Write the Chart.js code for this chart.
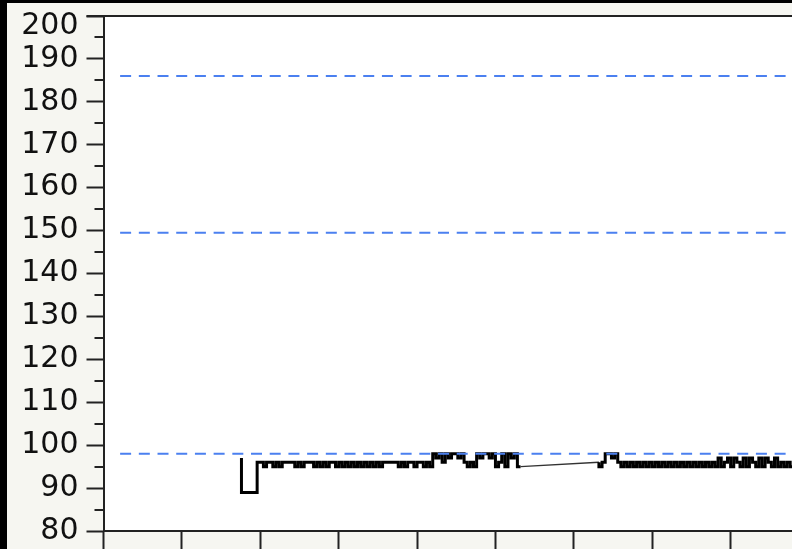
<!DOCTYPE html>
<html>
<head>
<meta charset="utf-8">
<script src="https://cdn.jsdelivr.net/npm/chart.js@4/dist/chart.umd.min.js"></script>
<style>
  html, body { margin: 0; padding: 0; background: #000; overflow: hidden; }
  #spo2Chart { position: absolute; left: 7px; top: 3px; }
</style>
</head>
<body>
<canvas id="spo2Chart" width="810" height="546"></canvas>
<script>
// sample times (x units, one tick every 25)
const times = [
  44, 45, 46, 47, 48, 49, 50, 51, 52, 53,
  54, 55, 56, 57, 58, 59, 60, 61, 62, 63,
  64, 65, 66, 67, 68, 69, 70, 71, 72, 73,
  74, 75, 76, 77, 78, 79, 80, 81, 82, 83,
  84, 85, 86, 87, 88, 89, 90, 91, 92, 93,
  94, 95, 96, 97, 98, 99, 100, 101, 102, 103,
  104, 105, 106, 107, 108, 109, 110, 111, 112, 113,
  114, 115, 116, 117, 118, 119, 120, 121, 122, 123,
  124, 125, 126, 127, 128, 129, 130, 131, 132, 133,
  158, 159, 160, 161, 162, 163, 164, 165, 166, 167,
  168, 169, 170, 171, 172, 173, 174, 175, 176, 177,
  178, 179, 180, 181, 182, 183, 184, 185, 186, 187,
  188, 189, 190, 191, 192, 193, 194, 195, 196, 197,
  198, 199, 200, 201, 202, 203, 204, 205, 206, 207,
  208, 209, 210, 211, 212, 213, 214, 215, 216, 217,
  218, 219, 220
];

const readings = [
  97, 89, 89, 89, 89, 89, 96, 96, 95, 96,
  96, 95, 96, 95, 96, 96, 96, 96, 95, 96,
  95, 96, 96, 96, 95, 96, 95, 96, 95, 96,
  96, 95, 96, 95, 96, 95, 96, 95, 96, 95,
  96, 95, 96, 95, 96, 95, 96, 96, 96, 96,
  96, 95, 96, 95, 96, 96, 95, 96, 96, 95,
  96, 95, 98, 97, 98, 96, 98, 97, 98, 98,
  97, 98, 96, 95, 96, 95, 98, 97, 98, 98,
  97, 98, 95, 96, 98, 95, 98, 97, 98, 95,
  96, 95, 96, 98, 98, 97, 98, 96, 95, 96,
  95, 96, 95, 96, 95, 96, 95, 96, 95, 96,
  95, 96, 95, 96, 95, 96, 95, 96, 95, 96,
  95, 96, 95, 96, 95, 96, 95, 96, 95, 97,
  95, 96, 97, 95, 97, 96, 95, 97, 95, 97,
  96, 95, 97, 95, 97, 96, 95, 97, 95, 96,
  95, 96, 95
];

// dashed reference levels
const limits = [186, 149.5, 98];
const limitStart = 5.3;
const limitEnd = 225;

const minorTicks = [85, 95, 105, 115, 125, 135, 145, 155, 165, 175, 185, 195];
const yFont = {family: 'DejaVu Sans', size: 30};

const panelPlugin = {
  id: 'panel',
  beforeDraw(chart) {
    const {ctx, chartArea: a} = chart;
    ctx.save();
    ctx.fillStyle = '#f6f6f1';
    ctx.fillRect(0, 0, chart.width, chart.height);
    ctx.fillStyle = '#ffffff';
    ctx.fillRect(a.left, a.top, a.right - a.left, a.bottom - a.top);
    ctx.restore();
  },
  afterDraw(chart) {
    const {ctx, chartArea: a} = chart;
    const y = chart.scales.y;
    ctx.save();
    ctx.strokeStyle = '#222';
    ctx.lineWidth = 2;
    ctx.beginPath();
    ctx.moveTo(a.left - 17, a.top);
    ctx.lineTo(a.right, a.top);
    minorTicks.forEach(v => {
      const py = Math.round(y.getPixelForValue(v));
      ctx.moveTo(a.left - 9, py);
      ctx.lineTo(a.left, py);
    });
    ctx.stroke();
    // top label sits a little lower so it is not cut by the frame
    ctx.fillStyle = '#111';
    ctx.font = yFont.size + 'px "' + yFont.family + '"';
    ctx.textAlign = 'right';
    ctx.textBaseline = 'top';
    ctx.fillText(String(y.max), a.left - 25, 8);
    ctx.restore();
  }
};

const points = times.map((t, i) => ({x: t, y: readings[i]}));
// the recording has one break; the monitor joins it with a plain line
const gap = times.findIndex((t, i) => i > 0 && t - times[i - 1] > 1);

const datasets = limits.map(v => ({
  data: [{x: limitStart, y: v}, {x: limitEnd, y: v}],
  borderColor: '#4b80f0',
  borderWidth: 2,
  borderDash: [11, 7.7],
  pointRadius: 0,
  order: 0
}));

const trace = {borderColor: '#000000', borderWidth: 3, pointRadius: 0, stepped: 'after', order: 1};
datasets.push({...trace, data: points.slice(0, gap)});
datasets.push({...trace, data: points.slice(gap)});
datasets.push({
  data: points.slice(gap - 1, gap + 1),
  borderColor: '#333333',
  borderWidth: 1.5,
  pointRadius: 0,
  order: 1
});

new Chart(document.getElementById('spo2Chart'), {
  type: 'line',
  data: {datasets},
  options: {
    responsive: false,
    animation: false,
    layout: {padding: {top: 13, right: 8, left: 0, bottom: 0}},
    plugins: {legend: {display: false}, tooltip: {enabled: false}},
    scales: {
      x: {
        type: 'linear',
        min: 0,
        max: 225,
        ticks: {stepSize: 25, callback: () => ''},
        grid: {drawOnChartArea: false, tickLength: 19, tickWidth: 2, tickColor: '#222'},
        border: {color: '#222', width: 2},
        afterFit: s => { s.height = 18; s.paddingLeft = 0; s.paddingRight = 0; }
      },
      y: {
        min: 80,
        max: 200,
        ticks: {
          stepSize: 10, padding: 8, color: '#111', font: yFont,
          callback: v => (v === 200 ? '' : v)
        },
        grid: {drawOnChartArea: false, tickLength: 17, tickWidth: 2, tickColor: '#222'},
        border: {color: '#222', width: 2},
        afterFit: s => { s.width = 96.5; s.paddingTop = 0; s.paddingBottom = 0; }
      }
    }
  },
  plugins: [panelPlugin]
});
</script>
</body>
</html>
